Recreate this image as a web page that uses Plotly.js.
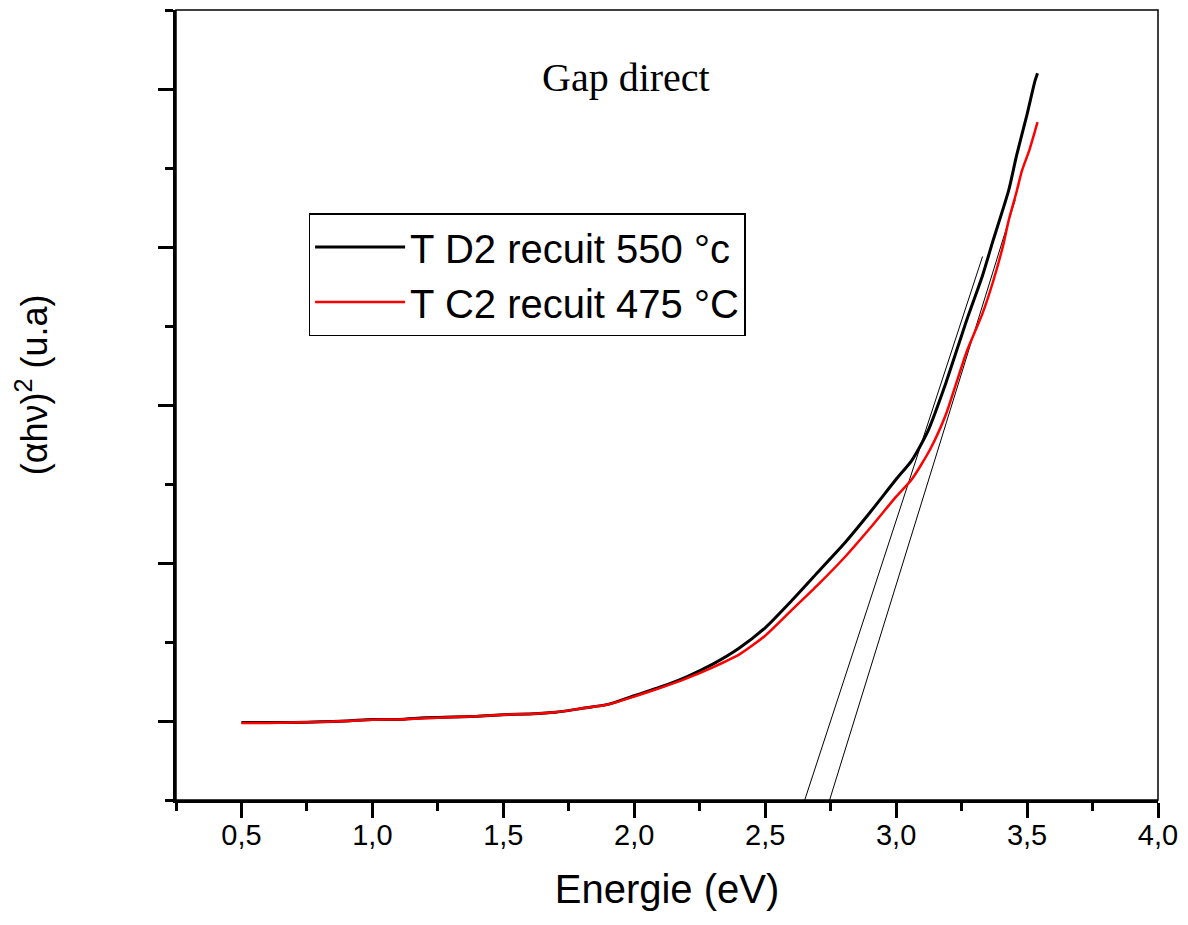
<!DOCTYPE html>
<html>
<head>
<meta charset="utf-8">
<script src="https://cdn.plot.ly/plotly-3.0.1.min.js"></script>
<style>html,body{margin:0;padding:0;background:#fff;}#chart{width:1188px;height:925px;}</style>
</head>
<body>
<div id="chart"></div>
<script>
// Energy (eV) and (alpha h nu)^2 (arbitrary units)
const energyD2 = [0.50,0.60,0.70,0.80,0.90,1.00,1.10,1.20,1.30,1.40,1.50,1.60,1.70,1.80,1.90,2.00,2.10,2.20,2.30,2.40,2.50,2.60,2.70,2.80,2.90,3.00,3.06,3.12,3.19,3.27,3.33,3.37,3.43,3.46,3.50,3.53,3.54];
const absorbD2 = [-0.01,-0.01,-0.01,-0.005,0.0,0.01,0.01,0.02,0.025,0.03,0.04,0.045,0.055,0.08,0.105,0.16,0.215,0.28,0.36,0.46,0.59,0.76,0.94,1.12,1.32,1.53,1.65,1.83,2.14,2.54,2.82,3.04,3.36,3.58,3.84,4.05,4.10];

const energyC2 = [0.50,0.60,0.70,0.80,0.90,1.00,1.10,1.20,1.30,1.40,1.50,1.60,1.70,1.80,1.90,2.00,2.10,2.20,2.30,2.40,2.50,2.60,2.70,2.80,2.90,3.00,3.06,3.13,3.19,3.23,3.27,3.33,3.37,3.41,3.43,3.46,3.48,3.51,3.54];
const absorbC2 = [-0.012,-0.012,-0.01,-0.006,0.0,0.008,0.01,0.018,0.024,0.03,0.04,0.045,0.055,0.08,0.105,0.155,0.21,0.27,0.34,0.42,0.54,0.70,0.86,1.03,1.22,1.42,1.53,1.72,1.94,2.14,2.34,2.58,2.78,3.02,3.17,3.35,3.48,3.62,3.79];

// Tangent (extrapolation) lines
const tangentD2x = [2.651, 3.33];
const tangentD2y = [-0.5, 2.94];
const tangentC2x = [2.746, 3.455];
const tangentC2y = [-0.5, 3.30];

const seriesNames = ['T D2 recuit 550 °c', 'T C2 recuit 475 °C'];
const xTickVals = [0.5,1.0,1.5,2.0,2.5,3.0,3.5,4.0];

const traces = [
  {x: tangentD2x, y: tangentD2y, mode:'lines', line:{color:'#000', width:1}, showlegend:false, hoverinfo:'skip'},
  {x: tangentC2x, y: tangentC2y, mode:'lines', line:{color:'#000', width:1}, showlegend:false, hoverinfo:'skip'},
  {x: energyD2, y: absorbD2, mode:'lines', name: seriesNames[0], line:{color:'#000', width:3, shape:'spline', smoothing:0.6}},
  {x: energyC2, y: absorbC2, mode:'lines', name: seriesNames[1], line:{color:'#ff0000', width:2.5, shape:'spline', smoothing:0.6}}
];

const layout = {
  width:1188, height:925,
  margin:{l:176, r:30, t:10, b:125},
  paper_bgcolor:'#fff', plot_bgcolor:'#fff',
  separators:', ',
  showlegend:true,
  font:{family:'Liberation Sans, Arial, sans-serif', color:'#000'},
  xaxis:{
    range:[0.25,4.0], tickvals:xTickVals, tickformat:'.1f',
    showgrid:false, zeroline:false, showline:true, linecolor:'#000', linewidth:3,
    ticks:'outside', ticklen:15, tickwidth:3, tickcolor:'#000',
    minor:{dtick:0.25, tick0:0.25, ticks:'outside', ticklen:8, tickwidth:3, tickcolor:'#000', showgrid:false},
    tickfont:{size:29, family:'Liberation Sans, Arial, sans-serif'},
    ticklabelstandoff:-8,
    title:{text:'Energie (eV)', font:{size:40}, standoff:26}
  },
  yaxis:{
    range:[-0.5,4.5], dtick:1, tick0:0, showticklabels:false,
    showgrid:false, zeroline:false, showline:true, linecolor:'#000', linewidth:3,
    ticks:'outside', ticklen:15, tickwidth:3, tickcolor:'#000',
    minor:{dtick:0.5, tick0:0.5, ticks:'outside', ticklen:8, tickwidth:3, tickcolor:'#000', showgrid:false}
  },
  legend:{
    x:0.135, y:0.743, xanchor:'left', yanchor:'top',
    bgcolor:'#fff', bordercolor:'#000', borderwidth:1.5,
    font:{size:40, family:'Liberation Sans, Arial, sans-serif'},
    itemwidth:90, tracegroupgap:0
  },
  shapes:[
    {type:'rect', xref:'paper', yref:'paper', x0:0, y0:0, x1:1, y1:1, line:{color:'#000', width:1.5}, layer:'below'}
  ],
  annotations:[
    {text:'Gap direct', xref:'paper', yref:'paper', x:0.458, y:0.946, showarrow:false,
     font:{family:'Liberation Serif, Times New Roman, serif', size:40, color:'#000'}},
    {text:'(αhν)<sup>2</sup> (u.a)', xref:'paper', yref:'paper', x:-0.172, y:0.525, showarrow:false,
     textangle:-90, font:{size:36, color:'#000'}}
  ]
};

Plotly.newPlot('chart', traces, layout, {displayModeBar:false, staticPlot:true});
</script>
</body>
</html>
